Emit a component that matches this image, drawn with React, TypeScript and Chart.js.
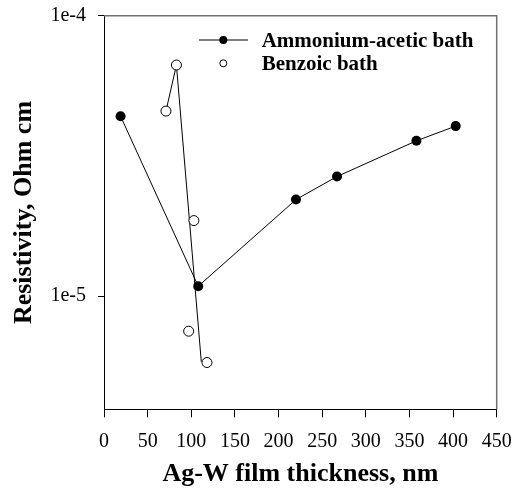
import React, { useEffect, useRef } from "react";
import { Chart, registerables } from "chart.js";

Chart.register(...registerables);

const seriesLabels = ["Ammonium-acetic bath", "Benzoic bath"];
const ammoniumX = [19, 108, 220, 267, 358, 403];
const ammoniumY = [4.38e-5, 1.085e-5, 2.21e-5, 2.67e-5, 3.58e-5, 4.04e-5];
const benzoicX = [71, 83, 103, 97, 118];
const benzoicY = [4.57e-5, 6.67e-5, 1.86e-5, 7.5e-6, 5.8e-6];
const benzoicLineX = [71, 83, 111.5];
const benzoicLineY = [4.57e-5, 6.67e-5, 5.83e-6];
const xMin = 0;
const xMax = 450;
const xStep = 50;
const yMin = 3.95e-6;
const yMax = 1e-4;
const yTickValues = [1e-5, 1e-4];
const yTickLabels = ["1e-5", "1e-4"];
const xTitle = "Ag-W film thickness, nm";
const yTitle = "Resistivity, Ohm cm";

const FONT = '"Times New Roman", "Liberation Serif", serif';

const toPoints = (xs: number[], ys: number[]) => xs.map((x, i) => ({ x, y: ys[i] }));

const framePlugin = {
  id: "frame",
  afterDraw(chart: any) {
    const { ctx, chartArea } = chart;
    ctx.save();
    ctx.strokeStyle = "#707070";
    ctx.lineWidth = 1.5;
    ctx.beginPath();
    ctx.moveTo(chartArea.left, chartArea.top);
    ctx.lineTo(chartArea.right, chartArea.top);
    ctx.lineTo(chartArea.right, chartArea.bottom);
    ctx.stroke();
    ctx.restore();
  },
};

const legendPlugin = {
  id: "insetLegend",
  afterDatasetsDraw(chart: any) {
    const { ctx, chartArea } = chart;
    const ds = chart.data.datasets;
    const lx = chartArea.left + 95;
    const mx = chartArea.left + 119.3;
    const tx = chartArea.left + 157.7;
    const rows = [chartArea.top + 24.3, chartArea.top + 47.6];
    ctx.save();
    ctx.strokeStyle = "#000";
    ctx.lineWidth = 1;
    ctx.beginPath();
    ctx.moveTo(lx, rows[0]);
    ctx.lineTo(lx + 49, rows[0]);
    ctx.stroke();
    ctx.fillStyle = "#000";
    ctx.beginPath();
    ctx.arc(mx, rows[0], 4, 0, Math.PI * 2);
    ctx.fill();
    ctx.fillStyle = "#fff";
    ctx.beginPath();
    ctx.arc(mx, rows[1], 3.5, 0, Math.PI * 2);
    ctx.fill();
    ctx.stroke();
    ctx.fillStyle = "#000";
    ctx.font = `bold 21px ${FONT}`;
    ctx.textAlign = "left";
    ctx.textBaseline = "alphabetic";
    ctx.fillText(ds[0].label, tx, rows[0] + 6.8);
    ctx.fillText(ds[1].label, tx, rows[1] + 6.8);
    ctx.restore();
  },
};

export default function App() {
  const ref = useRef<HTMLCanvasElement | null>(null);
  useEffect(() => {
    if (!ref.current) return;
    const chart = new Chart(ref.current, {
      type: "scatter",
      data: {
        datasets: [
          {
            label: seriesLabels[0],
            data: toPoints(ammoniumX, ammoniumY),
            showLine: true,
            borderColor: "#000",
            borderWidth: 1,
            backgroundColor: "#000",
            pointBackgroundColor: "#000",
            pointBorderColor: "#000",
            pointRadius: 5,
            pointBorderWidth: 0,
          },
          {
            label: seriesLabels[1],
            data: toPoints(benzoicX, benzoicY),
            showLine: false,
            borderColor: "#000",
            backgroundColor: "#fff",
            pointBackgroundColor: "#fff",
            pointBorderColor: "#000",
            pointRadius: 5,
            pointBorderWidth: 1,
          },
          {
            label: "",
            data: toPoints(benzoicLineX, benzoicLineY),
            showLine: true,
            borderColor: "#000",
            borderWidth: 1,
            pointRadius: 0,
          },
        ],
      },
      options: {
        responsive: false,
        animation: false,
        devicePixelRatio: 1,
        layout: { padding: { top: 15.7, right: 23.3, left: 0, bottom: 0 } },
        plugins: {
          legend: { display: false },
          tooltip: { enabled: false },
        },
        scales: {
          x: {
            type: "linear",
            min: xMin,
            max: xMax,
            afterFit: (s: any) => {
              s.height = 82.7;
              s.paddingLeft = 0;
              s.paddingRight = 0;
            },
            ticks: {
              stepSize: xStep,
              autoSkip: false,
              maxRotation: 0,
              padding: 12,
              color: "#000",
              font: { family: FONT, size: 20 },
            },
            grid: {
              drawOnChartArea: false,
              drawTicks: true,
              tickLength: 8,
              color: "#000",
              lineWidth: 1,
            },
            border: { display: true, color: "#000", width: 1 },
            title: {
              display: true,
              text: xTitle,
              color: "#000",
              font: { family: FONT, size: 26, weight: "bold" },
              padding: { top: 0, bottom: 2 },
            },
          },
          y: {
            type: "logarithmic",
            min: yMin,
            max: yMax,
            afterFit: (s: any) => {
              s.width = 104;
              s.paddingTop = 0;
              s.paddingBottom = 0;
            },
            afterBuildTicks: (s: any) => {
              s.ticks = yTickValues.map((v) => ({ value: v }));
            },
            ticks: {
              autoSkip: false,
              padding: 12,
              color: "#000",
              font: { family: FONT, size: 20 },
              callback: (v: any) => {
                const i = yTickValues.indexOf(Number(v));
                return i >= 0 ? yTickLabels[i] : "";
              },
            },
            grid: {
              drawOnChartArea: false,
              drawTicks: true,
              tickLength: 6,
              color: "#000",
              lineWidth: 1,
            },
            border: { display: true, color: "#000", width: 1 },
            title: {
              display: true,
              text: yTitle,
              color: "#000",
              font: { family: FONT, size: 26, weight: "bold" },
              padding: { top: 9, bottom: 0 },
            },
          },
        },
      },
      plugins: [framePlugin, legendPlugin],
    } as any);
    return () => chart.destroy();
  }, []);
  return (
    <div style={{ position: "fixed", left: 0, top: 0, width: 520, height: 492, background: "#fff" }}>
      <canvas ref={ref} width={520} height={492} style={{ display: "block" }} />
    </div>
  );
}
